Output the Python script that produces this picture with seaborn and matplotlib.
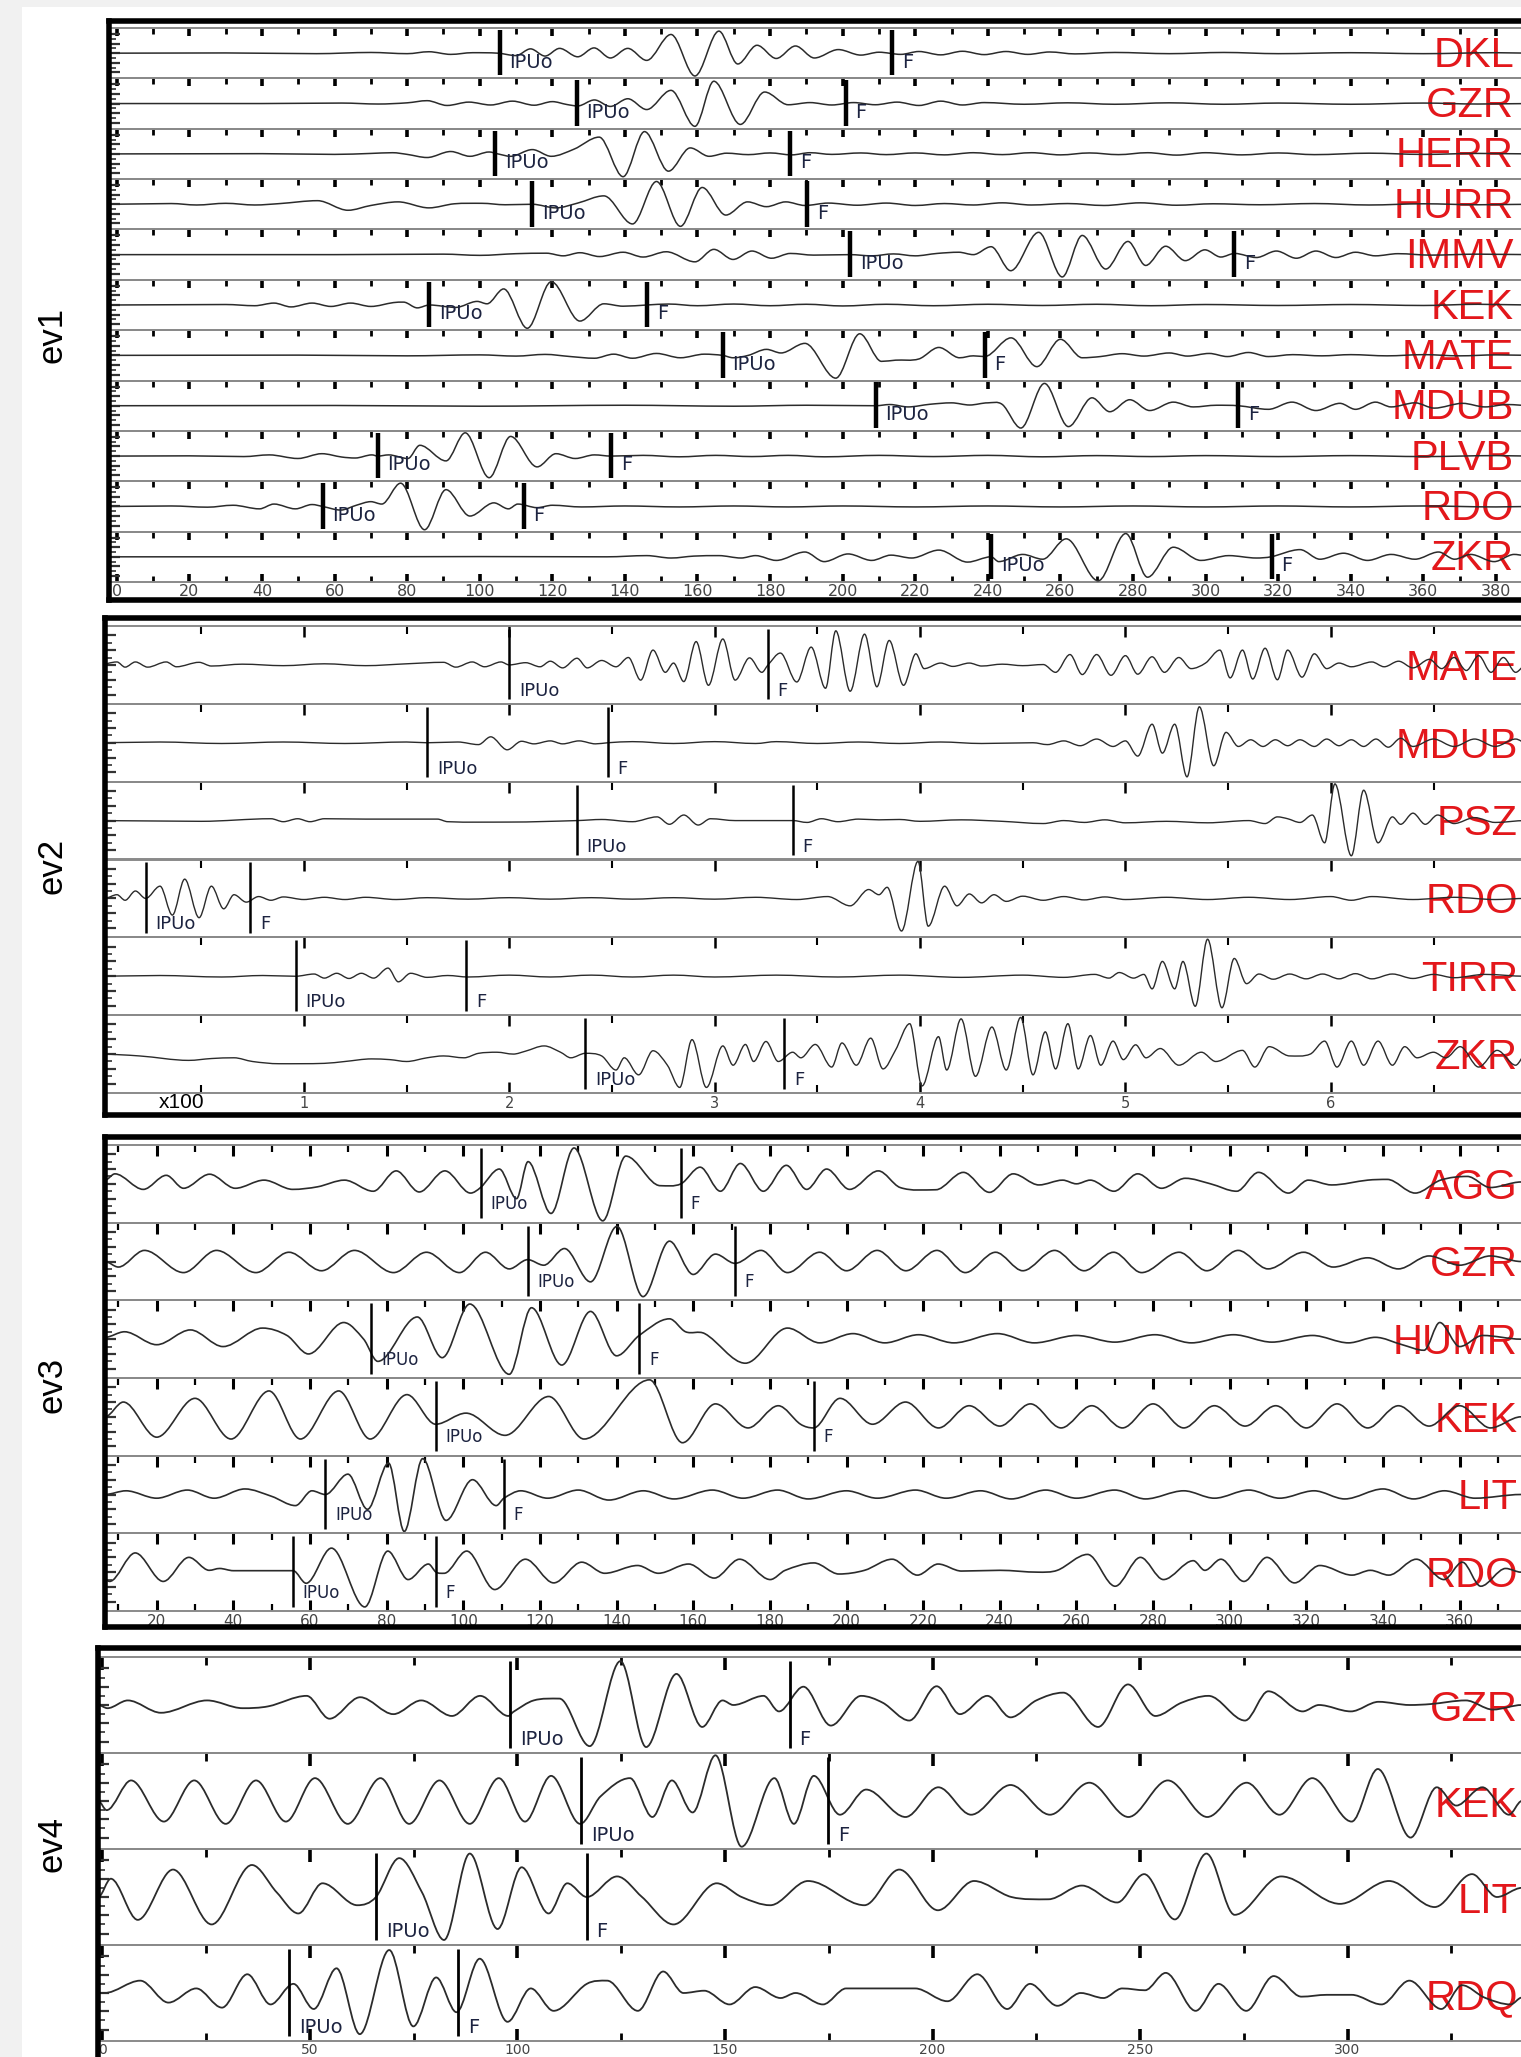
import matplotlib
matplotlib.use("Agg")
import matplotlib.pyplot as plt
import seaborn as sns
from matplotlib.patches import Rectangle, PathPatch
from matplotlib.path import Path
from matplotlib.ticker import MultipleLocator, FixedLocator, FormatStrFormatter

sns.set_style("white")
plt.rcParams["font.family"] = ["DejaVu Sans"]

# ---------------------------------------------------------------- data
# ev1 : time axis 0..390 ; amplitudes relative to half trace height
EV1_STATIONS = ["DKL", "GZR", "HERR", "HURR", "IMMV", "KEK", "MATE", "MDUB", "PLVB", "RDO", "ZKR"]
EV1_IPUO = [105.5, 126.7, 104.3, 114.5, 202.1, 86.1, 166.9, 209.1, 71.9, 56.7, 240.9]
EV1_F = [213.7, 200.8, 185.6, 190.2, 307.8, 146.1, 239.1, 308.9, 136.2, 112.1, 318.2]

EV1_DKL = [(-2,0),(30,0.01),(55,-0.02),(70,0.03),(80,-0.02),(86,0.06),(92,-0.05),(98,0.02),(105,0),(110,-0.1),(114,0.18),(118,-0.12),(122,0.2),(127,-0.15),(131.5,0.22),(136,-0.2),(140.8,0.2),(146,-0.3),(152.7,0.78),(159.3,-0.95),(165.9,0.92),(171.1,-0.45),(176.4,0.33),(181.7,-0.22),(187,0.3),(192.2,-0.2),(198.8,0.15),(205,-0.08),(210,0.04),(216,-0.05),(221,0.07),(227,-0.07),(233,0.08),(239,-0.06),(245,0.07),(251,-0.05),(257,0.05),(264,-0.03),(275,0.03),(290,-0.02),(305,0.03),(320,-0.02),(340,0.02),(360,-0.02),(380,0.02),(390,0)]
EV1_GZR = [(-2,0),(40,0),(62,0.02),(72,-0.02),(80,0.03),(85.5,0.12),(91,-0.08),(97,0.06),(103,-0.06),(109,0.1),(115,-0.07),(120,0.08),(124,-0.04),(127,-0.1),(131.6,0.15),(136,-0.12),(140.8,0.2),(146,-0.25),(152.7,0.55),(159.3,-0.95),(164.5,0.93),(171.8,-0.87),(178.5,0.48),(185,-0.05),(191,0.04),(197,-0.06),(203,0.04),(209,-0.05),(215,0.06),(221,-0.08),(227,0.1),(233,-0.06),(239,0.04),(250,-0.03),(262,0.03),(275,-0.03),(290,0.03),(305,-0.03),(320,0.02),(340,-0.03),(360,0.02),(375,-0.02),(390,0)]
EV1_HERR = [(-2,0),(40,0.01),(60,-0.02),(70,0.02),(76,0.05),(80,-0.02),(85.5,-0.15),(92,0.1),(97.3,-0.1),(102.6,0.08),(105,0),(108.5,-0.1),(114.5,0.18),(119.7,-0.1),(126,0.2),(132.9,0.7),(139.5,-0.95),(145.4,0.93),(152,-0.72),(158,0.25),(163.2,-0.1),(168,0.03),(174,-0.03),(180,0.04),(186,-0.04),(191,0.05),(197,-0.02),(205,0.04),(212,-0.03),(220,0.04),(228,-0.04),(236,0.05),(244,-0.03),(252,0.05),(260,-0.04),(268,0.04),(276,-0.03),(284,0.05),(292,-0.05),(300,0.05),(310,-0.04),(320,0.04),(330,-0.03),(345,0.03),(360,-0.02),(375,0.02),(390,0)]
EV1_HURR = [(-2,0),(15,0.03),(22,-0.03),(30,0.04),(38,-0.03),(45,0.03),(55.3,0.15),(63.7,-0.25),(70,-0.05),(77.5,0.1),(86,-0.15),(93,0.02),(100.6,0.04),(107,-0.02),(114.5,0),(121,-0.15),(127,0.05),(134.2,0.35),(142.1,-0.82),(148.7,0.95),(155.3,-0.92),(161.3,0.7),(167.8,-0.45),(173.8,0.1),(179,-0.1),(184.3,0.1),(189.6,-0.05),(196,0.05),(204,-0.04),(212,0.05),(220,-0.05),(228,0.03),(236,-0.03),(244,0.06),(252,-0.03),(262,0.03),(272,-0.05),(282,0.06),(292,-0.04),(302,0.02),(315,-0.02),(330,0.03),(345,-0.03),(360,0.02),(375,-0.02),(390,0)]
EV1_IMMV = [(-2,0),(60,0),(90,0.02),(100,-0.03),(110,0.04),(118.4,0.06),(123,-0.05),(127.6,0.08),(133,-0.08),(139.5,0.1),(145,-0.1),(151.4,0.12),(159.3,-0.3),(164.5,0.22),(169.8,-0.2),(175,0.15),(180.4,-0.15),(185.6,0.05),(192,-0.02),(202,0),(208,-0.05),(214,0.03),(220,-0.05),(226,0.05),(232,0.1),(236,0),(240.9,0.33),(246.3,-0.67),(254,0.93),(260.5,-0.93),(266,0.8),(272.5,-0.6),(278.6,0.55),(283.5,-0.45),(289,0.35),(294.4,-0.25),(299.8,0.2),(304.2,-0.1),(308,0.05),(314,-0.12),(319.5,0.15),(325,-0.15),(330.4,0.15),(335.9,-0.12),(341.3,0.1),(346.8,-0.05),(353,0.04),(362,-0.02),(375,0.02),(390,0)]
EV1_KEK = [(-2,0),(30,0.02),(38,-0.03),(43.3,0.08),(48,-0.08),(53.8,0.08),(59,-0.06),(64.4,0.08),(70,-0.06),(76.2,0.1),(79,0.12),(82.8,-0.12),(86.1,0),(93.4,-0.1),(99.3,0.15),(102,0.05),(106.6,0.67),(113.1,-0.97),(119.7,0.97),(127.6,-0.67),(134.2,0.05),(139.5,-0.05),(146,0),(152,0.04),(160,-0.03),(170,0.04),(180,-0.03),(190,0.03),(200,-0.04),(212,0.03),(225,-0.03),(240,0.03),(255,-0.02),(270,0.03),(285,-0.03),(300,0.02),(320,-0.02),(340,0.02),(360,-0.02),(375,0.03),(390,0)]
EV1_MATE = [(-2,0),(50,0.01),(80,-0.02),(100,0.02),(110,-0.03),(118,0.04),(125,-0.05),(131.6,-0.12),(136.9,0.05),(142.1,-0.12),(148.7,0.08),(155.3,-0.1),(161.9,0.05),(166.9,0),(169.8,-0.1),(174,0),(179,0.25),(183,0.1),(189.6,0.5),(198.1,-0.95),(204.7,0.9),(210.7,-0.25),(214.6,-0.2),(221,-0.15),(226.5,0.33),(232.2,-0.1),(236,-0.02),(239.1,-0.05),(246.4,0.73),(253.5,-0.47),(260,0.67),(266,-0.1),(271,-0.05),(277,0.07),(283,-0.03),(290,0.1),(295,-0.03),(301,0.08),(306,-0.05),(311.8,0.12),(317.3,-0.05),(324,0.03),(332,-0.02),(340,0.03),(350,-0.02),(360,0.03),(370,-0.02),(380,0.02),(390,0)]
EV1_MDUB = [(-2,0),(60,0.01),(100,-0.02),(140,0.02),(170,-0.02),(190,0.02),(209.1,0),(213,0.05),(218,-0.05),(224,0.06),(230,0.12),(235,0.03),(240,0.12),(244,0.05),(249.1,-0.93),(255.6,0.93),(262.2,-0.87),(268.7,0.33),(273.6,-0.25),(279.1,0.25),(284.6,-0.2),(291.1,0.15),(296.6,-0.05),(303,0.02),(309,0),(317.3,-0.15),(323.8,0.15),(330.4,-0.2),(337,0.1),(341.3,-0.15),(346.8,0.15),(351.1,-0.05),(357.7,0.12),(363,-0.1),(370.8,0.1),(377,-0.05),(383,0.05),(390,0)]
EV1_PLVB = [(-2,0),(20,0.01),(35,-0.02),(42,0.05),(49.9,-0.1),(56.5,0.1),(62,-0.04),(65.7,-0.08),(70.3,0.05),(71.9,0),(74.9,0.05),(80.2,-0.1),(83.5,0.45),(90.7,-0.2),(96,0.97),(102.6,-0.9),(108.5,0.82),(115.8,-0.45),(121,0.1),(126.3,-0.1),(131.6,0.05),(136.2,0),(145,0.03),(155,-0.03),(165,0.03),(175,-0.02),(185,0.03),(195,-0.03),(210,0.03),(225,-0.02),(240,0.03),(255,-0.03),(270,0.02),(285,-0.02),(300,0.02),(320,-0.02),(340,0.02),(360,-0.02),(380,0.02),(390,0)]
EV1_RDO = [(-2,0),(15,0.02),(25,-0.03),(32,0.05),(39.3,-0.1),(43.3,0.1),(49.2,-0.1),(53.8,0.08),(56.7,0),(61.7,-0.15),(66,0.05),(70,0.2),(73,0.1),(78.2,0.97),(84.8,-0.97),(90.7,0.7),(97.3,-0.4),(103.9,0.15),(107.9,-0.1),(110.5,0.1),(115.8,-0.05),(120,0.05),(128,-0.02),(140,0.02),(155,-0.02),(170,0.02),(185,-0.02),(200,0.02),(220,-0.02),(240,0.02),(260,-0.02),(280,0.02),(300,-0.02),(320,0.02),(340,-0.02),(360,0.02),(380,-0.02),(390,0)]
EV1_ZKR = [(-2,0),(60,0),(100,0.01),(135,0),(146,0.05),(152.7,-0.05),(159,0.03),(165.9,0.05),(172,-0.05),(176,0.05),(181.7,-0.15),(189.6,0.2),(194.9,-0.2),(201.5,0.12),(208,-0.15),(213.3,0.07),(219,-0.05),(226.5,0.28),(234.4,-0.22),(240.9,0),(243,-0.2),(249.6,0.1),(255.1,-0.1),(261.6,0.75),(270.4,-1.0),(278,0.97),(284,-0.85),(291.1,0.4),(298.7,-0.15),(306.4,0.05),(314,-0.05),(318,0),(326,0.3),(331.5,-0.1),(338,0.15),(344.6,-0.15),(351.1,0.1),(357.7,-0.1),(364.2,0.2),(368.6,-0.1),(373,0.1),(379.5,-0.2),(385,0.1),(390,0)]
EV1_TRACES = [EV1_DKL, EV1_GZR, EV1_HERR, EV1_HURR, EV1_IMMV, EV1_KEK, EV1_MATE, EV1_MDUB, EV1_PLVB, EV1_RDO, EV1_ZKR]

# ev2 : time axis in units of x100
EV2_STATIONS = ["MATE", "MDUB", "PSZ", "RDO", "TIRR", "ZKR"]
EV2_IPUO = [2.0, 1.6, 2.33, 0.23, 0.96, 2.37]
EV2_F = [3.26, 2.48, 3.38, 0.74, 1.79, 3.34]

EV2_MATE = [(0,0),(0.09,0.08),(0.13,-0.06),(0.18,0.08),(0.24,-0.06),(0.33,0.08),(0.38,-0.05),(0.49,0.07),(0.55,-0.03),(0.7,0.02),(0.9,-0.02),(1.1,0.03),(1.3,-0.02),(1.5,0.03),(1.68,0.07),(1.74,-0.06),(1.82,0.08),(1.88,-0.05),(1.96,0.08),(2.0,0),(2.08,0.06),(2.15,-0.05),(2.2,0.1),(2.26,-0.08),(2.33,0.18),(2.38,-0.08),(2.45,0.12),(2.52,-0.05),(2.58,0.2),(2.64,-0.41),(2.70,0.4),(2.76,-0.2),(2.80,0.05),(2.85,-0.45),(2.91,0.63),(2.97,-0.55),(3.04,0.7),(3.10,-0.41),(3.17,0.19),(3.23,-0.2),(3.26,0),(3.32,0.32),(3.40,-0.46),(3.47,0.48),(3.54,-0.63),(3.59,0.92),(3.66,-0.71),(3.73,0.83),(3.79,-0.59),(3.85,0.66),(3.92,-0.55),(3.98,0.3),(4.02,-0.1),(4.1,0.05),(4.16,-0.04),(4.24,0.05),(4.3,-0.03),(4.4,0.02),(4.5,-0.02),(4.6,0.01),(4.66,-0.2),(4.73,0.28),(4.79,-0.26),(4.86,0.28),(4.93,-0.28),(5.0,0.25),(5.06,-0.25),(5.13,0.22),(5.19,-0.2),(5.26,0.2),(5.32,-0.1),(5.39,0.05),(5.46,0.4),(5.51,-0.35),(5.57,0.4),(5.62,-0.38),(5.68,0.45),(5.74,-0.4),(5.79,0.4),(5.86,-0.33),(5.92,0.3),(5.98,-0.1),(6.04,0.05),(6.1,-0.05),(6.2,0.08),(6.26,-0.05),(6.33,0.1),(6.4,-0.08),(6.48,0.15),(6.54,-0.1),(6.6,0.2),(6.66,-0.15),(6.72,0.25),(6.78,-0.2),(6.84,0.2),(6.9,-0.2),(6.95,0)]
EV2_MDUB = [(0,0),(0.3,0.02),(0.6,-0.02),(0.9,0.02),(1.2,-0.02),(1.5,0.02),(1.6,0),(1.75,0.02),(1.85,-0.05),(1.91,0.16),(1.99,-0.19),(2.06,0.04),(2.12,-0.03),(2.2,0.05),(2.26,-0.03),(2.34,0.05),(2.42,-0.03),(2.48,0),(2.6,0.03),(2.8,-0.02),(3.0,0.03),(3.2,-0.02),(3.3,0.03),(3.5,-0.02),(3.7,0.02),(3.9,-0.02),(4.1,0.02),(4.3,-0.02),(4.55,0),(4.62,-0.05),(4.7,0.05),(4.78,-0.08),(4.86,0.1),(4.94,-0.1),(5.0,0.05),(5.06,-0.36),(5.13,0.5),(5.18,-0.28),(5.24,0.5),(5.30,-0.92),(5.36,0.97),(5.43,-0.62),(5.49,0.28),(5.55,-0.1),(5.61,0.08),(5.67,-0.1),(5.73,0.08),(5.79,-0.08),(5.85,0.08),(5.92,-0.1),(5.98,0.1),(6.04,-0.08),(6.1,0.08),(6.16,-0.1),(6.22,0.1),(6.28,-0.12),(6.34,0.12),(6.4,-0.1),(6.5,0.1),(6.6,-0.1),(6.7,0.1),(6.8,-0.1),(6.9,0.1),(6.95,0)]
EV2_PSZ = [(0,0),(0.5,-0.02),(0.84,0.05),(0.9,-0.03),(0.97,0.05),(1.03,-0.03),(1.1,0.05),(1.3,0.04),(1.65,0.04),(1.7,-0.03),(2.0,-0.04),(2.33,0),(2.45,0.03),(2.6,-0.03),(2.72,0.1),(2.78,-0.1),(2.85,0.15),(2.92,-0.12),(2.98,0.05),(3.1,0),(3.38,0),(3.45,-0.05),(3.52,0.05),(3.6,-0.03),(3.7,0.04),(3.8,0.02),(3.9,0.03),(4.0,-0.02),(4.2,0.02),(4.4,-0.02),(4.6,-0.08),(4.7,0.0),(4.8,-0.05),(4.9,0.02),(5.0,-0.06),(5.2,-0.02),(5.4,-0.06),(5.6,0),(5.68,-0.08),(5.74,0.1),(5.79,0.05),(5.85,-0.05),(5.91,0.15),(5.97,-0.6),(6.02,0.99),(6.10,-0.95),(6.16,0.82),(6.23,-0.6),(6.30,0.1),(6.34,-0.1),(6.40,0.2),(6.46,-0.1),(6.52,0.15),(6.6,-0.08),(6.7,0.08),(6.8,-0.05),(6.95,0)]
EV2_RDO = [(0.03,0),(0.09,0.1),(0.13,-0.05),(0.18,0.2),(0.23,0),(0.30,0.33),(0.36,-0.45),(0.42,0.52),(0.49,-0.52),(0.55,0.33),(0.61,-0.28),(0.66,0.1),(0.72,-0.1),(0.78,0.05),(0.84,-0.05),(0.9,0.04),(1.0,-0.03),(1.1,0.03),(1.2,-0.03),(1.3,0.03),(1.45,-0.03),(1.6,0.02),(1.8,-0.02),(2.0,0.02),(2.2,-0.02),(2.4,0.02),(2.6,-0.02),(2.8,0.02),(3.0,-0.02),(3.2,0.03),(3.4,-0.03),(3.55,0.05),(3.66,-0.2),(3.75,0.24),(3.80,0.1),(3.84,0.3),(3.91,-0.88),(3.99,1.0),(4.04,-0.75),(4.12,0.33),(4.18,-0.2),(4.24,0.12),(4.3,-0.12),(4.36,0.1),(4.42,-0.08),(4.5,0.06),(4.6,-0.05),(4.7,0.05),(4.8,-0.04),(4.9,0.04),(5.0,-0.03),(5.2,0.03),(5.4,-0.03),(5.6,0.03),(5.8,-0.03),(6.0,0.05),(6.1,-0.05),(6.2,0.05),(6.4,-0.03),(6.6,0.03),(6.8,-0.03),(6.95,0)]
EV2_TIRR = [(0,0),(0.3,0.02),(0.6,-0.02),(0.8,0.02),(0.96,0),(1.05,0.06),(1.1,-0.05),(1.16,0.08),(1.22,-0.06),(1.28,0.08),(1.34,-0.05),(1.41,0.22),(1.46,-0.15),(1.52,0.08),(1.6,-0.03),(1.7,0.02),(1.8,-0.02),(2.0,0.03),(2.2,-0.02),(2.4,0.03),(2.6,-0.02),(2.8,0.03),(3.0,-0.02),(3.3,0.03),(3.6,-0.02),(3.9,0.03),(4.2,-0.03),(4.5,0.03),(4.7,-0.03),(4.85,0.05),(4.92,-0.05),(4.97,0.1),(5.04,-0.05),(5.09,0.05),(5.13,-0.34),(5.18,0.4),(5.24,-0.34),(5.28,0.4),(5.34,-0.81),(5.40,1.0),(5.47,-0.85),(5.53,0.48),(5.59,-0.2),(5.65,0.06),(5.72,-0.08),(5.8,0.06),(5.88,-0.07),(5.96,0.06),(6.04,-0.07),(6.12,0.07),(6.2,-0.07),(6.3,0.06),(6.4,-0.06),(6.5,0.05),(6.6,-0.04),(6.75,0.05),(6.95,0)]
EV2_ZKR = [(0,0),(0.2,-0.05),(0.44,-0.17),(0.55,-0.12),(0.66,-0.1),(0.75,-0.2),(0.88,-0.26),(1.1,-0.25),(1.2,-0.2),(1.33,-0.13),(1.42,-0.15),(1.5,-0.2),(1.6,-0.1),(1.68,-0.05),(1.78,-0.1),(1.85,0.02),(1.94,0.05),(2.02,0.0),(2.08,0.08),(2.17,0.22),(2.25,0.05),(2.3,-0.1),(2.37,0.02),(2.45,-0.05),(2.52,-0.43),(2.56,-0.1),(2.63,-0.56),(2.70,0.09),(2.77,-0.3),(2.83,-0.9),(2.89,0.39),(2.96,-0.9),(3.04,0.22),(3.09,-0.3),(3.15,0.26),(3.19,-0.2),(3.25,0.34),(3.31,-0.2),(3.38,0.05),(3.42,-0.1),(3.49,0.26),(3.57,-0.35),(3.62,0.3),(3.69,-0.3),(3.76,0.43),(3.82,-0.4),(3.88,0.1),(3.95,0.82),(4.01,-0.86),(4.09,0.47),(4.13,-0.43),(4.20,0.95),(4.27,-0.6),(4.35,0.73),(4.42,-0.43),(4.49,0.99),(4.55,-0.56),(4.61,0.6),(4.66,-0.4),(4.72,0.82),(4.77,-0.4),(4.83,0.5),(4.88,-0.3),(4.94,0.35),(4.99,-0.15),(5.05,0.25),(5.10,-0.1),(5.17,0.15),(5.26,-0.3),(5.37,0.05),(5.44,-0.2),(5.57,0.1),(5.63,-0.35),(5.70,0.2),(5.8,-0.05),(5.9,0.0),(5.97,0.35),(6.03,-0.35),(6.10,0.35),(6.16,-0.3),(6.23,0.35),(6.30,-0.3),(6.36,0.2),(6.42,-0.1),(6.5,0.05),(6.56,-0.1),(6.63,0.2),(6.72,-0.35),(6.81,0.1),(6.9,-0.3),(6.95,0)]
EV2_TRACES = [EV2_MATE, EV2_MDUB, EV2_PSZ, EV2_RDO, EV2_TIRR, EV2_ZKR]

# ev3
EV3_STATIONS = ["AGG", "GZR", "HUMR", "KEK", "LIT", "RDO"]
EV3_IPUO = [104.5, 116.8, 76.0, 92.8, 64.0, 55.5]
EV3_F = [156.8, 170.9, 145.9, 191.4, 110.6, 92.8]

EV3_AGG = [(6.5,0.1),(9.1,0.27),(16.5,-0.15),(22.5,0.23),(27,-0.12),(33.8,0.26),(40.5,-0.12),(48,0.1),(55.5,-0.15),(62,-0.08),(69,0.1),(76.5,-0.2),(82.5,0.35),(88.5,-0.22),(95.2,0.35),(101.9,-0.25),(104.5,-0.1),(109.4,0.4),(113.9,-0.4),(116.9,0.6),(122.9,-0.8),(128.9,0.97),(136.4,-1.0),(142.4,0.75),(151.4,-0.05),(156.8,0.0),(161.8,0.45),(167.1,-0.2),(172.3,0.55),(178.3,-0.2),(184.3,0.5),(189.6,-0.15),(194.8,0.4),(200.8,-0.15),(208.3,0.35),(214,-0.1),(223.3,-0.16),(230.5,0.31),(237.3,-0.23),(243.5,0.27),(250.2,-0.03),(256.4,0.1),(260,0.0),(263.6,0.1),(269.8,-0.2),(276,0.27),(282.2,-0.12),(288.4,0.15),(295,0.0),(301.8,-0.2),(307.5,0.31),(315.3,-0.25),(320.5,0.1),(326.6,-0.03),(336,0.1),(341.1,0.12),(348.4,-0.25),(355,0.1),(362,0.2),(368,-0.1),(376,0.05)]
EV3_GZR = [(6.5,0),(10,-0.15),(16.8,0.3),(27,-0.3),(35.6,0.3),(45.9,-0.3),(54.5,0.25),(63,-0.25),(71.6,0.3),(81.8,-0.3),(90.4,0.25),(99,-0.3),(105.8,0.25),(112,-0.2),(116.8,0.05),(121,-0.1),(126.4,0.35),(133.2,-0.55),(140.1,0.95),(146.9,-0.95),(153.8,0.55),(160,-0.35),(165.8,0.2),(170.9,-0.05),(177.7,0.3),(184.6,-0.3),(193,0.25),(200,-0.25),(208,0.3),(215.5,-0.25),(223.6,0.3),(231,-0.3),(238.9,0.25),(246,-0.25),(254.3,0.3),(262,-0.25),(269.7,0.25),(277,-0.3),(286.8,0.25),(294,-0.25),(302.2,0.3),(310,-0.2),(319.3,0.25),(327,-0.15),(336,0.1),(344,-0.2),(352,0.15),(360,-0.1),(368,0.15),(376,0)]
EV3_HUMR = [(6.5,0.05),(11.6,0.2),(20,-0.15),(28.8,0.25),(37.3,-0.2),(47.6,0.3),(54,0.1),(59.6,-0.4),(68.8,0.45),(74,0.0),(77.7,-0.6),(88,0.6),(94.5,-0.5),(101.7,0.95),(112,-0.95),(117.8,0.85),(125.7,-0.7),(133.2,0.75),(140,-0.45),(145.9,0.1),(153.8,0.55),(158,0.2),(163,0.15),(173.6,-0.65),(184.6,0.3),(193,-0.1),(201.7,0.15),(210,-0.1),(218.8,0.12),(228,-0.1),(239.4,0.15),(249,-0.1),(260,0.1),(270,-0.08),(280.5,0.12),(290,-0.1),(301,0.12),(311,-0.08),(321.6,0.1),(331,-0.1),(338,0.05),(345,-0.15),(350.7,-0.3),(354.8,0.45),(360,-0.2),(366,0.1),(376,0)]
EV3_KEK = [(6.5,0),(11.3,0.4),(20,-0.55),(30,0.5),(39.4,-0.6),(49.3,0.7),(57.5,-0.6),(67.5,0.7),(75.7,-0.6),(85.3,0.6),(92.8,-0.2),(100.7,0.1),(110.9,-0.5),(122.3,0.55),(131.5,-0.6),(148.6,1.0),(157.2,-0.7),(165.8,0.35),(174.3,-0.3),(182.2,0.3),(188,-0.2),(191.4,-0.3),(198.3,0.5),(206.8,-0.2),(215.4,0.4),(224,-0.3),(232,0.3),(240,-0.25),(248,0.35),(256,-0.3),(264,0.3),(272,-0.3),(280,0.35),(288,-0.3),(296,0.3),(304,-0.25),(312,0.3),(320,-0.3),(328,0.35),(336,-0.3),(344,0.3),(352,-0.25),(360,0.3),(368,-0.3),(376,0)]
EV3_LIT = [(6.5,0),(12,0.1),(20,-0.1),(28,0.12),(35,-0.1),(43,0.15),(50,-0.05),(56.2,-0.3),(60.5,0.1),(64,0.0),(69.9,0.55),(75,-0.4),(80.5,0.85),(84.6,-1.0),(89.4,0.97),(95.5,-0.7),(102.4,0.4),(108.6,-0.3),(110.6,-0.1),(115,0.1),(122,-0.1),(130,0.12),(138,-0.15),(147,0.1),(155,-0.12),(165,0.12),(173,-0.1),(182,0.12),(190,-0.12),(200,0.1),(208,-0.1),(218,0.12),(226,-0.1),(235,0.1),(243,-0.12),(252,0.12),(260,-0.1),(270,0.12),(278,-0.12),(288,0.1),(296,-0.1),(305,0.12),(313,-0.1),(322,0.1),(330,-0.12),(340,0.15),(348,-0.12),(356,0.1),(364,-0.1),(376,0)]
EV3_RDO = [(6.5,-0.2),(7.7,-0.25),(14.4,0.52),(21.7,-0.25),(28.4,0.4),(33.7,0.05),(36.4,0.1),(40,0.04),(55.6,0.04),(59,-0.3),(65.6,0.65),(74.3,-0.94),(80.3,0.57),(85.6,-0.2),(90.9,0.22),(92.9,0.0),(95,-0.03),(100.9,0.57),(108.2,-0.47),(116.2,0.35),(123.6,-0.29),(130.9,0.27),(136.9,-0.03),(145.5,0.18),(150.9,-0.03),(158.8,0.22),(165.5,-0.16),(172.1,0.35),(180.1,-0.2),(184,0.05),(191.5,0.25),(198,-0.05),(204.7,0.05),(211.9,0.35),(218.5,-0.08),(223.9,0.22),(230,0.03),(240,0.05),(250,0.0),(255,0.05),(262.9,0.48),(270.1,-0.38),(276.7,0.4),(282.7,-0.2),(290.5,0.31),(293.5,0.05),(297.7,0.35),(303.7,-0.25),(309.7,0.4),(316.9,-0.29),(323.5,0.18),(331.9,-0.08),(336.7,0.05),(341.5,-0.08),(348.7,0.35),(355.9,-0.2),(360.7,0.27),(365.5,-0.38),(372,0.1),(376,0)]
EV3_TRACES = [EV3_AGG, EV3_GZR, EV3_HUMR, EV3_KEK, EV3_LIT, EV3_RDO]

# ev4
EV4_STATIONS = ["GZR", "KEK", "LIT", "RDQ"]
EV4_IPUO = [98.3, 115.4, 65.9, 45.0]
EV4_F = [165.6, 174.8, 116.7, 85.7]

EV4_GZR = [(-1,0),(1.2,-0.07),(6.1,0.1),(14.1,-0.17),(25.2,0.1),(33.8,-0.07),(39.9,-0.03),(49.2,0.2),(54.7,-0.3),(62.1,0.17),(70.1,-0.2),(76.8,0.1),(84.2,-0.24),(91,0.2),(97.8,-0.24),(99,-0.15),(103.9,0.1),(110.1,0.14),(117.4,-0.9),(124.8,0.96),(131,-0.92),(138.3,0.68),(144.5,-0.48),(149.4,0.1),(152,0.0),(159.3,0.2),(163,-0.14),(168.9,0.4),(175.5,-0.45),(182.8,0.2),(188,0.05),(194.4,-0.34),(201,0.41),(206.6,-0.2),(213.2,0.2),(218.8,-0.27),(225,0.1),(231.5,0.27),(239.9,-0.48),(247.1,0.45),(253.7,-0.24),(260,0.05),(266.5,0.2),(275.3,-0.34),(280.9,0.3),(289.2,-0.14),(293.1,0.0),(300.8,-0.14),(307.5,0.07),(315,0),(320,0.02),(328.5,0.1),(335,-0.1),(342,0)]
EV4_KEK = [(-1,0),(1,-0.2),(6.9,0.45),(14.8,-0.45),(22.1,0.45),(29.7,-0.5),(37,0.45),(44.2,-0.45),(51.2,0.5),(59.1,-0.5),(67,0.5),(73.9,-0.5),(81.2,0.45),(88.5,-0.5),(95.5,0.5),(101.8,-0.45),(108.1,0.55),(115.1,-0.5),(120,0.1),(127.1,0.5),(132.5,-0.35),(137.2,0.45),(142.2,-0.25),(147.7,1.0),(154,-1.0),(161.9,0.5),(166.6,-0.5),(171.4,0.55),(177.7,-0.3),(184,0.25),(193.5,-0.35),(201.4,0.3),(209.3,-0.3),(218.8,0.35),(228.3,-0.3),(237.8,0.4),(247.2,-0.35),(256.7,0.45),(266.2,-0.35),(275.7,0.4),(283.6,-0.3),(291.5,0.5),(301,-0.45),(307.3,0.7),(315.2,-0.8),(321.5,0.3),(326.2,-0.1),(332.5,0.3),(338.9,-0.3),(342,0)]
EV4_LIT = [(-1,0.0),(2,0.4),(8.5,-0.5),(17,0.6),(26.3,-0.6),(36,0.7),(42,0.1),(47.2,-0.36),(53,0.3),(61.4,-0.18),(65.9,0.0),(71.5,0.85),(77,0.1),(82.3,-0.94),(88.5,0.95),(95.2,-0.7),(101,0.65),(107.5,-0.36),(112,0.3),(116.7,0.0),(124,0.45),(130,0.0),(137.6,-0.6),(148,0.3),(154,0.0),(160.9,-0.18),(170,0.35),(183.6,-0.18),(192,0.6),(201.3,-0.29),(210,0.35),(219,0.0),(227.9,-0.05),(236,0.25),(244.5,-0.12),(251,0.5),(258.4,-0.49),(266,0.95),(272.8,-0.39),(284,0.45),(298.2,-0.15),(310,0.35),(321,-0.22),(330,0.5),(336,0.0),(342,0.2)]
EV4_RDQ = [(-1,0),(0.5,0.0),(9.1,0.27),(15.9,-0.21),(22.6,0.1),(28.8,-0.32),(34.9,0.41),(40.5,-0.25),(46,0.2),(50.9,-0.35),(56.4,0.54),(62,-0.9),(69.1,0.94),(74.9,-0.73),(80.4,0.34),(85.3,-0.42),(90.9,0.75),(97.6,-0.63),(103.2,0.1),(108.7,-0.39),(116.7,0.2),(121.6,0.27),(129,-0.39),(135.1,0.47),(140,0.0),(145,0.05),(151.1,-0.25),(157.3,0.13),(163.4,-0.11),(167,0.0),(173.6,-0.25),(179.2,0.1),(195.8,0.1),(203.6,-0.18),(210.8,0.41),(218,-0.35),(223.5,0.2),(230.1,-0.28),(235.7,0.0),(241.2,-0.11),(245.7,0.1),(251.2,0.06),(256.2,0.44),(263.4,-0.39),(268.9,0.2),(275.6,-0.39),(282.2,0.37),(288.9,-0.08),(295,-0.04),(301,-0.04),(308.2,-0.25),(314.9,0.27),(322.6,-0.35),(327.6,0.17),(333,-0.1),(339.3,-0.25),(342,-0.1)]
EV4_TRACES = [EV4_GZR, EV4_KEK, EV4_LIT, EV4_RDQ]

EVENT_NAMES = ["ev1", "ev2", "ev3", "ev4"]

# ---------------------------------------------------------------- layout / style
W, H = 1521, 2057
TRACE_COLOR = "#2b2b2b"
LABEL_RED = "#e3171b"
SEP_COLOR = "#8a8a8a"
PICK_TEXT = "#1c2340"

PANELS = [
    dict(stations=EV1_STATIONS, ipuo=EV1_IPUO, f=EV1_F, traces=EV1_TRACES,
         frame=(109, 21, 1600, 600), rows=(28, 582), xlim=(-2.15, 386.9),
         major=20, minor=10, lab_right=1514, pick_lw=3.2, trace_lw=1.1,
         lab_y=-0.37, tick_len=(6, 4), tick_w=(2.6, 2.0), ylab_y=335, tickfs=11.5,
         tickpad=1.5, pickfs=14),
    dict(stations=EV2_STATIONS, ipuo=EV2_IPUO, f=EV2_F, traces=EV2_TRACES,
         frame=(105, 618, 1600, 1115), rows=(626, 1093), xlim=(0.032, 6.926),
         major=1, minor=0.5, lab_right=1518, pick_lw=1.8, trace_lw=1.0,
         lab_y=-0.7, tick_len=(8, 6), tick_w=(1.8, 1.5), ylab_y=866, tickfs=10.5,
         tickpad=2, pickfs=13),
    dict(stations=EV3_STATIONS, ipuo=EV3_IPUO, f=EV3_F, traces=EV3_TRACES,
         frame=(105, 1137, 1600, 1627), rows=(1145, 1611), xlim=(6.51, 376.0),
         major=20, minor=10, lab_right=1518, pick_lw=1.8, trace_lw=1.2,
         lab_y=-0.55, tick_len=(8, 5), tick_w=(2.2, 1.6), ylab_y=1385, tickfs=11,
         tickpad=2, pickfs=12),
    dict(stations=EV4_STATIONS, ipuo=EV4_IPUO, f=EV4_F, traces=EV4_TRACES,
         frame=(98, 1648, 1600, 2090), rows=(1657, 2041), xlim=(-1.08, 341.8),
         major=50, minor=25, lab_right=1518, pick_lw=2.0, trace_lw=1.3,
         lab_y=-0.76, tick_len=(9, 6), tick_w=(2.6, 2.0), ylab_y=1844, tickfs=10,
         tickpad=1.5, pickfs=14),
]


def frac(l, t, r, b):
    return [l / W, 1 - b / H, (r - l) / W, (b - t) / H]


def trace_path(ts, vs):
    """Smooth (cubic Hermite) rendering path through the read trace points."""
    n = len(ts)
    m = [0.0] * n
    for i in range(1, n - 1):
        if (vs[i] - vs[i - 1]) * (vs[i + 1] - vs[i]) > 0:
            m[i] = (vs[i + 1] - vs[i - 1]) / (ts[i + 1] - ts[i - 1])
    verts = [(ts[0], vs[0])]
    codes = [Path.MOVETO]
    for i in range(n - 1):
        dx = ts[i + 1] - ts[i]
        verts += [(ts[i] + dx / 3, vs[i] + m[i] * dx / 3),
                  (ts[i + 1] - dx / 3, vs[i + 1] - m[i + 1] * dx / 3),
                  (ts[i + 1], vs[i + 1])]
        codes += [Path.CURVE4] * 3
    return Path(verts, codes)


fig = plt.figure(figsize=(W / 100, H / 100), dpi=100, facecolor="#f1f1f1")
fig.add_artist(Rectangle((22 / W, 0), 1, 1 - 7 / H, transform=fig.transFigure,
                         facecolor="white", edgecolor="none", zorder=-10))

for name, cfg in zip(EVENT_NAMES, PANELS):
    l, t, r, b = cfg["frame"]
    top, bot = cfg["rows"]
    n = len(cfg["stations"])
    h = (bot - top) / n
    for i, st in enumerate(cfg["stations"]):
        rt = top + i * h
        ax = fig.add_axes(frac(l, rt, W, rt + h), zorder=1)
        ax.set_facecolor("none")
        pts = cfg["traces"][i]
        ts = [p[0] for p in pts]
        vs = [p[1] for p in pts]
        ax.add_patch(PathPatch(trace_path(ts, vs), facecolor="none", edgecolor=TRACE_COLOR,
                               linewidth=cfg["trace_lw"], zorder=3, capstyle="round",
                               joinstyle="round"))
        ax.set_xlim(*cfg["xlim"])
        ax.set_ylim(-1.05, 1.05)
        # picks
        ax.vlines([cfg["ipuo"][i], cfg["f"][i]], -0.93, 0.97, colors="black",
                  linewidth=cfg["pick_lw"], zorder=4)
        ax.annotate("IPUo", xy=(cfg["ipuo"][i], cfg["lab_y"]), xytext=(7, 0),
                    textcoords="offset points", va="center", ha="left",
                    fontsize=cfg["pickfs"], color=PICK_TEXT, zorder=4)
        ax.annotate("F", xy=(cfg["f"][i], cfg["lab_y"]), xytext=(7, 0),
                    textcoords="offset points", va="center", ha="left",
                    fontsize=cfg["pickfs"], color=PICK_TEXT, zorder=4)
        # station name
        xa = (cfg["lab_right"] - l) / (W - l)
        ax.text(xa, 0.45, st, transform=ax.transAxes, ha="right", va="center",
                fontsize=30, color=LABEL_RED, family=["Liberation Sans", "DejaVu Sans"],
                zorder=1, clip_on=False)
        # spines
        sns.despine(ax=ax, top=False, bottom=False, left=True, right=True)
        for s in ("top", "bottom"):
            ax.spines[s].set_color(SEP_COLOR)
            ax.spines[s].set_linewidth(1.4)
        last = (i == n - 1)
        ax.xaxis.set_major_locator(MultipleLocator(cfg["major"]))
        ax.xaxis.set_minor_locator(MultipleLocator(cfg["minor"]))
        ax.xaxis.set_major_formatter(FormatStrFormatter("%d"))
        ax.tick_params(axis="x", which="both", direction="in", top=True, bottom=last,
                       labeltop=False, labelbottom=last, color="black")
        ax.tick_params(axis="x", which="major", length=cfg["tick_len"][0],
                       width=cfg["tick_w"][0], pad=cfg["tickpad"], labelsize=cfg["tickfs"],
                       labelcolor="#444444")
        ax.tick_params(axis="x", which="minor", length=cfg["tick_len"][1],
                       width=cfg["tick_w"][1])
        ax.yaxis.set_major_locator(FixedLocator([-0.8, -0.4, 0, 0.4, 0.8]))
        ax.yaxis.set_minor_locator(FixedLocator([-0.6, -0.2, 0.2, 0.6]))
        ax.tick_params(axis="y", which="both", direction="in", left=True, right=False,
                       labelleft=False, color="#333333")
        ax.tick_params(axis="y", which="major", length=8, width=1.6)
        ax.tick_params(axis="y", which="minor", length=5, width=1.2)
        ax.grid(False)

    fr = fig.add_axes(frac(l, t, r, b), zorder=5)
    fr.set_facecolor("none")
    fr.set_xticks([])
    fr.set_yticks([])
    for s in fr.spines.values():
        s.set_visible(True)
        s.set_linewidth(4.0)
        s.set_color("black")

    fig.text(52 / W, 1 - cfg["ylab_y"] / H, name, rotation=90, ha="center", va="center",
             fontsize=25, color="black", family=["Liberation Sans", "DejaVu Sans"])

fig.text(182 / W, 1 - 1103 / H, "x100", ha="center", va="center", fontsize=15,
         color="black", family=["Liberation Sans", "DejaVu Sans"])

fig.savefig("out.png", dpi=100, facecolor=fig.get_facecolor())
